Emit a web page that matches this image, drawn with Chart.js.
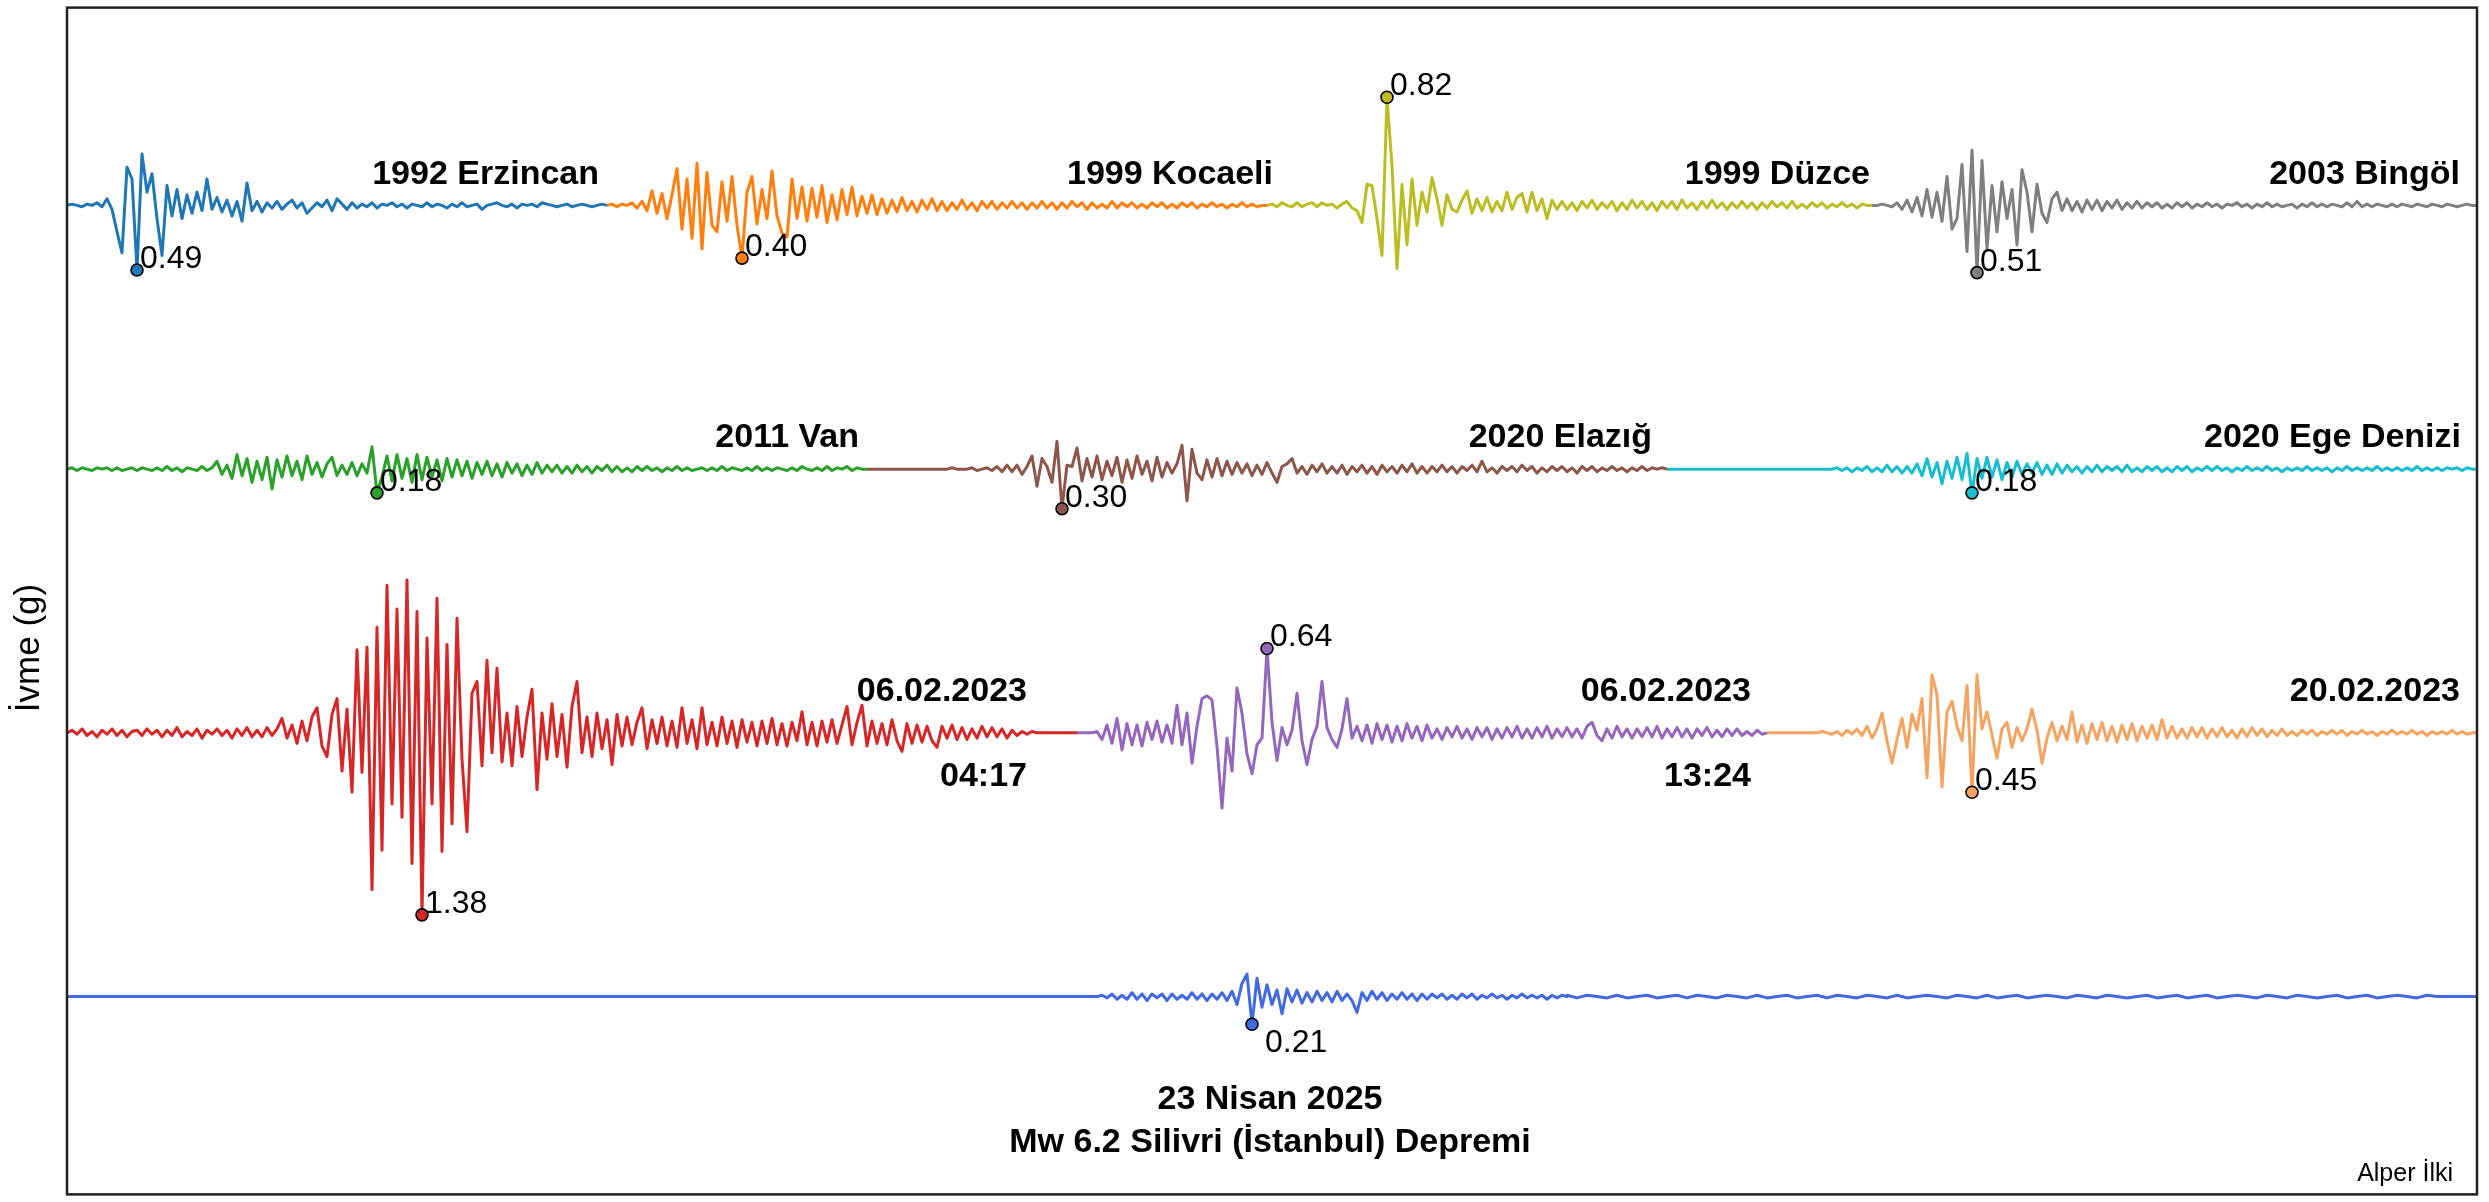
<!DOCTYPE html>
<html lang="tr">
<head>
<meta charset="utf-8">
<title>İvme kayıtları</title>
<script src="https://cdn.jsdelivr.net/npm/chart.js@4.4.1/dist/chart.umd.min.js"></script>
<style>
  html, body { margin: 0; padding: 0; background: #fff; }
  canvas { display: block; }
</style>
</head>
<body>
<canvas id="chart" width="2489" height="1202" style="width:2489px;height:1202px"></canvas>
<script>
// accelerations, in 0.01 g, one value every DT seconds
const DT = 0.5;

const erzincan = [
  0, 1, 0, -1, 1, 0, 2, -1, 5, -3,
  -20, -36, 29, 20, -49, 39, 10, 24, -10, -38,
  15, -8, 12, -10, 8, -6, 10, -4, 20, -3,
  6, -5, 4, -8, 3, -12, 17, -4, 3, -5,
  2, -2, 3, -3, 1, 4, -2, 2, -6, -2,
  2, -1, 4, -4, 5, 1, -3, 2, -2, 1,
  -1, 2, -2, 1, 0, 2, -1, 1, -2, 1,
  0, -1, 2, -1, 1, 0, -2, 1, -1, 2,
  -1, 0, 1, -3, 0, 1, 2, 0, -1, 1,
  -2, 1, 0, 1, -1, 2, 1, 0, -1, 0,
  1, -1, 0, 1, 0, -1, 0, 1, 0
];
const kocaeli = [
  0, 1, -1, 1, 0, 2, -2, 3, -4, 11,
  -6, 9, -10, 8, 28, -18, 20, -25, 32, -33,
  25, -15, -20, 18, -12, 22, -15, -40, 10, 22,
  -14, 12, -10, 26, -8, -21, -24, 20, -10, 14,
  -12, 13, -9, 15, -13, 8, -11, 12, -7, 14,
  -8, 7, -6, 8, -7, 5, -6, 4, -5, 6,
  -4, 3, -5, 4, -3, 5, -4, 3, -4, 2,
  -3, 4, -3, 2, -4, 3, -2, 3, -3, 2,
  -2, 3, -2, 2, -3, 2, -2, 3, -2, 2,
  -3, 2, -2, 3, -1, 2, -3, 2, -2, 1,
  -2, 3, -2, 2, -1, 2, -2, 1, -2, 2,
  -1, 2, -2, 1, -2, 2, -1, 2, -2, 1,
  -1, 2, -1, 1, -2, 1, -1, 2, -1, 1,
  -1, 0, 0
];
const duzce = [
  0, 1, -1, 2, 0, -1, 2, -1, 1, 2,
  -1, 2, 0, 1, -2, 1, 3, -2, -4, -13,
  16, 15, -10, -38, 82, 30, -48, 16, -30, 20,
  -15, 10, -5, 21, 5, -15, 8, -3, -5, 4,
  11, -6, 5, -4, 6, -5, 3, -4, 10, -3,
  6, 9, -5, 10, -4, 5, -10, 4, -3, 3,
  -3, 2, -4, 3, -2, 4, -3, 2, -2, 3,
  -4, 2, -3, 4, -2, 3, -3, 2, -4, 3,
  -2, 3, -3, 4, -2, 2, -3, 3, -2, 4,
  -2, 2, -3, 2, -2, 3, -2, 2, -3, 2,
  -2, 3, -1, 2, -2, 3, -2, 1, -2, 2,
  -1, 2, -2, 1, -1, 2, -1, 1, -2, 1,
  0, 0
];
const bingol = [
  0, 0, 1, 0, -1, 2, -3, 4, -5, 6,
  -8, 12, -9, 10, -12, 22, -18, -10, 31, -35,
  42, -51, 34, -33, 15, -20, 18, -10, 12, -30,
  27, 10, -20, 16, -6, -13, 5, 10, -4, 5,
  -4, 3, -5, 4, -3, 4, -4, 3, -2, 4,
  -3, 2, -2, 3, -2, 2, -1, 2, -2, 1,
  -2, 2, -1, 2, -2, 1, -1, 2, -1, 1,
  -2, 1, 0, 2, -1, 1, -2, 1, -1, 2,
  -1, 1, -1, 0, 1, -2, 1, -1, 2, -1,
  1, -1, 1, 0, -1, 2, -1, 3, -1, 1,
  -1, 1, 0, -1, 1, -1, 1, 0, -1, 1,
  0, -1, 1, 0, -1, 1, 0, -1, 0, 1,
  0, 0
];
const van = [
  0, 1, -1, 1, 0, -1, 1, 0, 1, -1,
  1, -1, 0, 1, -1, 1, 0, -1, 1, -1,
  2, -1, 1, -2, 1, 0, -1, 2, -1, 1,
  6, -4, 3, -7, 11, -5, 8, -10, 6, -8,
  9, -15, 7, -6, 10, -5, 6, -8, 10, -4,
  5, -6, 4, 9, -5, 3, -4, 5, -5, 4,
  -3, 17, -18, -6, 10, -9, 11, -7, 8, -10,
  11, -8, 9, -6, 7, -9, 8, -6, 7, -5,
  6, -7, 5, -4, 6, -5, 4, -6, 5, -3,
  4, -5, 3, -4, 5, -3, 3, -2, 3, -3,
  2, -3, 3, -2, 2, -3, 2, -1, 3, -2,
  2, -2, 1, -2, 2, -1, 2, -1, 1, -2,
  1, -1, 2, -1, 1, -1, 0, 1, -1, 1,
  -1, 2, -1, 1, 0, -1, 1, -1, 2, -1,
  1, -1, 1, 0, -1, 1, -1, 2, 0, -1,
  1, -1, 2, -1, 1, 0, 2, -1, 1, 0,
  0
];
const elazig = [
  0, 0, 0, 0, 0, 0, 0, 0, 0, 0,
  0, 0, 0, 0, 0, 0, 0, 1, 0, 0,
  0, 1, -1, 0, 1, -1, 2, -2, 3, -2,
  3, -4, 2, 10, -13, 8, 2, -10, 21, -30,
  3, 2, 16, -9, 8, -6, 10, -8, 6, -5,
  9, -10, 7, -7, 10, -4, 6, -9, 9, -6,
  5, -3, 4, 18, -24, 15, -3, -8, 7, -6,
  8, -5, 6, -4, 5, -3, 4, -5, 3, -4,
  5, -3, -10, 2, 4, 8, -3, 2, -4, 3,
  -2, 4, -3, 2, -3, 3, -4, 2, -2, 3,
  -3, 2, -4, 3, -2, 2, -3, 3, -2, 4,
  -3, 2, -3, 2, -2, 3, -2, 2, -3, 2,
  -1, 3, -2, 6, -2, 1, -3, 2, -1, 2,
  -2, 3, -1, 2, -3, 1, -2, 2, -1, 2,
  -2, 1, -3, 2, -1, 2, -2, 1, -1, 2,
  -1, 1, -2, 1, -1, 2, -1, 1, 0, 1,
  0
];
const ege = [
  0, 0, 0, 0, 0, 0, 0, 0, 0, 0,
  0, 0, 0, 0, 0, 0, 0, 0, 0, 0,
  0, 0, 0, 0, 0, 0, 0, 0, 0, 0,
  0, 0, 0, 0, 1, -1, 1, -2, 1, -1,
  2, -2, 1, -2, 3, -2, 2, -3, 2, -3,
  4, -5, 8, -6, 5, -11, 6, -7, 9, -8,
  12, -18, 8, -7, 9, -6, 7, -8, 5, -6,
  6, -4, 4, -3, 5, -4, 3, -4, 4, -3,
  3, -2, 2, -3, 2, -2, 3, -2, 2, -1,
  2, -2, 3, -2, 1, -2, 2, -1, 2, -2,
  1, -2, 2, -1, 2, -2, 1, -1, 2, -1,
  2, -1, 1, -2, 1, -1, 2, -1, 1, -1,
  2, -1, 1, -2, 1, -1, 1, -1, 2, -1,
  1, -1, 1, -2, 1, -1, 2, -1, 1, -1,
  1, -1, 2, -1, 1, -1, 1, -1, 1, -1,
  2, -1, 1, -1, 1, -1, 1, 0, 1, -1,
  1, 0, 0
];
const feb6Morning = [
  0, 2, -1, 3, -2, 1, -3, 2, -1, 3,
  -2, 2, -3, 1, 2, -2, 3, -1, 2, -3,
  2, -2, 4, -3, 1, -2, 3, -4, 2, -1,
  3, -2, 2, -4, 3, -2, 4, -3, 2, -3,
  4, -2, 3, 11, -4, 6, -8, 9, -6, 12,
  19, -10, -18, 14, 26, -29, 18, -45, 63, -30,
  65, -119, 80, -89, 112, -54, 94, -64, 116, -99,
  92, -138, 72, -54, 102, -90, 67, -69, 87, -20,
  -75, 30, 39, -25, 55, -15, 49, -22, 15, -25,
  20, -18, 12, 33, -43, 15, -20, 22, -18, 14,
  -26, 20, 39, -15, 12, -18, 15, -12, 10, -24,
  14, -10, 12, -9, 8, 19, -12, 10, -8, 12,
  -10, 9, -11, 19, -8, 10, -12, 19, -9, 8,
  -10, 12, -8, 9, -11, 10, -7, 8, -10, 9,
  -8, 11, -9, 7, -10, 8, -6, 16, -9, 8,
  -10, 9, -7, 10, -8, 6, 20, -9, 8, 21,
  -10, 9, -8, 7, -9, 10, -6, -14, 7, -8,
  6, -7, 5, -6, -11, 5, -4, 6, -5, 4,
  -5, 3, -4, 5, -3, 4, -3, 3, -4, 2,
  -2, 1, -1, 1, 0, 0, 0, 0, 0, 0,
  0, 0, 0
];
const feb6Afternoon = [
  0, 0, 0, 0, 1, -5, 6, -8, 11, -13,
  7, -9, 6, -10, 8, -5, 9, -7, 6, -8,
  21, -9, 15, -23, 5, 26, 28, 25, -10, -57,
  -4, -29, 34, 15, -16, -31, -9, -4, 64, 8,
  -21, 4, -9, 2, 30, -6, -24, -5, 5, 39,
  4, -5, -11, 3, 26, -4, 5, -6, 6, -8,
  7, -5, 6, -7, 5, -6, 7, -4, 5, -6,
  6, -4, 3, -5, 4, -3, 5, -4, 3, -5,
  4, -3, 4, -5, 3, -4, 4, -3, 5, -4,
  3, -4, 4, -3, 5, -4, 3, -3, 4, -3,
  3, -4, 5, 8, -2, -6, 3, -4, 5, -3,
  3, -4, 3, -3, 4, -3, 5, -4, 3, -3,
  4, -3, 3, -4, 3, -2, 4, -3, 2, -3,
  3, -2, 3, -2, 1, -2, 2, -1, 0
];
const feb20 = [
  0, 0, 0, 0, 0, 0, 0, 0, 0, 0,
  0, 1, 0, -1, 1, -2, 2, -1, 3, -2,
  5, -4, 3, 15, -6, -23, -5, 11, -11, 14,
  2, 26, -34, 44, 29, -41, 16, 24, 5, -6,
  36, -45, 44, 3, 16, -2, -19, 3, 8, -11,
  4, -6, 3, 18, 2, -23, -4, 8, -6, 5,
  -5, 16, -7, 6, -8, 7, -5, 8, -6, 5,
  -7, 6, -5, 7, -6, 5, -4, 6, -5, 10,
  -4, 5, -4, 3, -4, 4, -3, 4, -4, 3,
  -3, 4, -3, 2, -4, 3, -3, 4, -2, 3,
  -3, 2, -2, 3, -2, 1, -2, 2, -1, 2,
  -2, 1, -1, 2, -1, 2, -2, 1, -1, 2,
  -1, 1, -2, 1, -1, 2, -1, 1, -1, 2,
  -1, 1, -2, 1, -1, 1, -1, 2, -1, 1,
  -1, 0, 0
];
// Silivri 2025: quiet start (every 10 s), the event (every 0.5 s), tail (every 1 s)
const silivriQuiet = [0, 0, 0, 0, 0, 0, 0, 0, 0, 0, 0];
const silivri = [
  0, 0, 0, 0, 0, 0, 0, 1, -1, 2,
  -2, 1, -2, 3, -2, 2, -3, 2, -1, 2,
  -3, 2, -2, 1, -2, 3, -2, 2, -3, 2,
  -2, 3, -3, 4, -6, 10, 17, -21, 14, -8,
  9, -6, 5, -13, 6, -4, 5, -5, 3, -4,
  4, -3, 3, -4, 4, -3, 2, -3, -12, 3,
  -3, 4, -2, 3, -3, 2, -2, 3, -2, 2,
  -3, 2, -2, 2, -1, 2, -2, 1, -2, 2,
  -1, 2, -2, 1, -1, 2, -1, 1, -2, 1,
  -1, 2, -1, 1, -1, 1, -2, 1, -1, 1,
  0
];
const silivriTail = [
  1, -1, 1, 0, -1, 1, -1, 0, 1, -1,
  0, 1, -1, 1, 0, -1, 1, 0, -1, 1,
  -1, 0, 1, -1, 0, 1, -1, 1, 0, -1,
  1, 0, -1, 1, -1, 0, 1, 0, -1, 1,
  0, -1, 1, -1, 0, 1, -1, 0, 1, 0,
  -1, 1, 0, -1, 1, 0, -1, 0, 1, -1,
  0, 1, -1, 0, 1, -1, 0, 1, 0, -1,
  1, 0, -1, 1, 0, -1, 0, 1, -1, 0,
  1, -1, 0, 1, 0, -1, 1, 0, 0, 0,
  0, 0
];

// each record: [start time (s), step (s), values]
const traces = [
  { row: 0, color: '#1f77b4', parts: [[0, DT, erzincan]] },
  { row: 0, color: '#ff7f0e', parts: [[54, DT, kocaeli]] },
  { row: 0, color: '#bcbd22', parts: [[120, DT, duzce]] },
  { row: 0, color: '#7f7f7f', parts: [[180.5, DT, bingol]] },
  { row: 1, color: '#2ca02c', parts: [[0, DT, van]] },
  { row: 1, color: '#8c564b', parts: [[80, DT, elazig]] },
  { row: 1, color: '#17becf', parts: [[160, DT, ege]] },
  { row: 2, color: '#d62728', parts: [[0, DT, feb6Morning]] },
  { row: 2, color: '#9467bd', parts: [[101, DT, feb6Afternoon]] },
  { row: 2, color: '#f4a460', parts: [[170, DT, feb20]] },
  { row: 3, color: '#4169e1', parts: [[0, 10, silivriQuiet], [100, DT, silivri], [150, 1, silivriTail]] }
];

// vertical shift of each row, in g
const rowOffsets = [0, -2, -4, -6];

// event names: [text, time of right edge, row, pixel shift from the row's zero line]
const titles = [
  ['1992 Erzincan', 53.2, 0, -21],
  ['1999 Kocaeli', 120.6, 0, -21],
  ['1999 Düzce', 180.3, 0, -21],
  ['2003 Bingöl', 239.3, 0, -21],
  ['2011 Van', 79.2, 1, -22],
  ['2020 Elazığ', 158.5, 1, -22],
  ['2020 Ege Denizi', 239.4, 1, -22],
  ['06.02.2023', 96.0, 2, -32],
  ['04:17', 96.0, 2, 53],
  ['06.02.2023', 168.4, 2, -32],
  ['13:24', 168.4, 2, 53],
  ['20.02.2023', 239.3, 2, -32]
];

const FONT = '"Liberation Sans", Arial, sans-serif';

const lineSets = traces.map(tr => {
  const pts = [];
  tr.parts.forEach(([t0, dt, vals]) => {
    vals.forEach((v, i) => pts.push({ x: t0 + i * dt, y: rowOffsets[tr.row] + v / 100 }));
  });
  return {
    data: pts,
    borderColor: tr.color,
    borderWidth: 3,
    borderJoinStyle: 'round',
    pointRadius: 0,
    fill: false,
    tension: 0
  };
});

// peak ground acceleration of every record, taken from its values
const peaks = traces.map(tr => {
  let best = null;
  tr.parts.forEach(([t0, dt, vals]) => {
    vals.forEach((v, i) => {
      if (!best || Math.abs(v) > Math.abs(best.v)) best = { t: t0 + i * dt, v };
    });
  });
  return { x: best.t, y: rowOffsets[tr.row] + best.v / 100, pga: Math.abs(best.v) / 100, row: tr.row };
});

const peakSet = {
  data: peaks.map(p => ({ x: p.x, y: p.y })),
  showLine: false,
  pointRadius: 6,
  pointHoverRadius: 6,
  pointBackgroundColor: traces.map(t => t.color),
  pointBorderColor: '#000',
  pointBorderWidth: 1.6
};

function drawTexts(chart) {
  const { ctx, scales: { x, y }, chartArea } = chart;
  ctx.save();
  ctx.fillStyle = '#000';

  ctx.font = 'bold 34px ' + FONT;
  ctx.textAlign = 'right';
  ctx.textBaseline = 'alphabetic';
  titles.forEach(([text, t, row, dy]) => {
    ctx.fillText(text, x.getPixelForValue(t), y.getPixelForValue(rowOffsets[row]) + dy);
  });

  ctx.textAlign = 'center';
  const base = y.getPixelForValue(rowOffsets[3]);
  const mid = x.getPixelForValue(120.3);
  ctx.fillText('23 Nisan 2025', mid, base + 112);
  ctx.fillText('Mw 6.2 Silivri (İstanbul) Depremi', mid, base + 155);

  ctx.font = '32px ' + FONT;
  ctx.textAlign = 'left';
  peaks.forEach(p => {
    const px = x.getPixelForValue(p.x);
    const py = y.getPixelForValue(p.y);
    if (p.row === 3) {
      ctx.textBaseline = 'top';
      ctx.fillText(p.pga.toFixed(2), px + 13, py + 3);
    } else {
      ctx.textBaseline = 'alphabetic';
      ctx.fillText(p.pga.toFixed(2), px + 3, py - 2);
    }
  });

  ctx.font = '25px ' + FONT;
  ctx.textAlign = 'right';
  ctx.textBaseline = 'alphabetic';
  ctx.fillText('Alper İlki', chartArea.right - 24, chartArea.bottom - 13);

  ctx.font = '35px ' + FONT;
  ctx.translate(29, 648);
  ctx.rotate(-Math.PI / 2);
  ctx.textAlign = 'center';
  ctx.textBaseline = 'middle';
  ctx.fillText('İvme (g)', 0, 0);
  ctx.restore();
}

const overlay = {
  id: 'overlay',
  afterDatasetDraw(chart, args) {
    // datasets are painted from last to first: write the texts before the peak dots
    if (args.index === 1) drawTexts(chart);
  },
  afterDraw(chart) {
    const { ctx, chartArea: a } = chart;
    ctx.save();
    ctx.strokeStyle = '#222';
    ctx.lineWidth = 2.5;
    ctx.strokeRect(a.left, a.top, a.right - a.left, a.bottom - a.top);
    ctx.restore();
  }
};

new Chart(document.getElementById('chart'), {
  type: 'line',
  data: { datasets: [peakSet, ...lineSets] },
  options: {
    responsive: false,
    animation: false,
    devicePixelRatio: 1,
    layout: { padding: { left: 67, right: 12, top: 3, bottom: 4 } },
    scales: {
      x: { type: 'linear', min: 0, max: 241, display: false },
      y: { type: 'linear', min: -7.5, max: 1.5, display: false }
    },
    plugins: {
      legend: { display: false },
      tooltip: { enabled: false }
    },
    events: []
  },
  plugins: [overlay]
});
</script>
</body>
</html>
